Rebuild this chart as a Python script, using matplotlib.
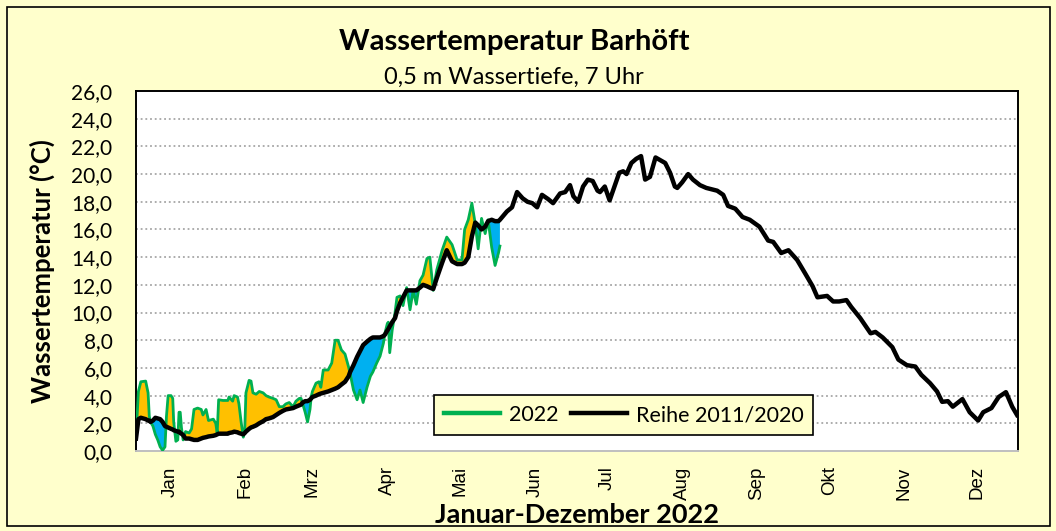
import numpy as np
import matplotlib
matplotlib.use("Agg")
import matplotlib.pyplot as plt
from matplotlib.ticker import FuncFormatter, FixedLocator
from matplotlib.patches import Rectangle

# ---------------- data (day of year, 0 = 1 Jan) ----------------
days_2022 = [0, 1, 2, 4, 5, 5.5, 6, 7, 8, 9, 10, 11, 12, 12.6, 13.3, 14.5, 15.2, 15.6,
             16.5, 17.3, 17.8, 18.3, 18.8, 19.5, 20.5, 22, 23, 24, 25.5, 27, 27.7, 29,
             30, 32, 33, 33.6, 34.2, 36, 38, 38.5, 40, 40.6, 42, 42.6, 43.5, 44.4, 45,
             45.5, 46.8, 47.6, 48.4, 49.7, 51, 52.6, 53.8, 55, 56.7, 58, 59.3, 60.8, 62,
             63.4, 65, 66.2, 67.6, 68.3, 69, 70, 71, 72, 72.5, 73, 74.5, 75.7, 76.5, 77.5,
             79.5, 81, 82.4, 83.6, 85, 86.5, 88, 88.6, 90, 91.5, 92.7, 94, 95.6, 97, 98,
             99.6, 101, 102.4, 103, 104, 104.4, 105, 106, 107.2, 108, 109.3, 110.5, 112,
             113.4, 114.7, 116, 117.5, 118.8, 120.4, 121.6, 123, 124.5, 126.7, 128.6,
             130.8, 132.9, 134.9, 136, 137.5, 139, 140.4, 141.6, 143, 144.5, 145.7, 147.2,
             148.6, 150, 150.6]

temp_2022 = [1.0, 4.3, 5.0, 5.05, 4.2, 2.5, 2.1, 1.8, 1.2, 0.8, 0.3, 0.05, 0.3, 2.5, 4.0,
             4.0, 3.8, 2.1, 0.7, 0.8, 2.8, 2.8, 1.7, 0.8, 1.4, 1.3, 1.6, 3.0, 3.1, 3.0, 2.6,
             3.0, 2.2, 2.3, 2.0, 1.3, 3.7, 3.65, 3.65, 3.9, 3.6, 4.0, 3.9, 3.4, 2.1, 1.0,
             1.5, 4.2, 5.1, 5.05, 4.2, 4.1, 4.3, 4.2, 4.0, 3.9, 3.8, 3.7, 3.2, 3.2, 3.4,
             3.5, 3.2, 3.6, 3.8, 3.8, 3.4, 2.8, 2.1, 3.0, 3.9, 4.3, 4.9, 5.0, 4.6, 5.85,
             5.85, 6.35, 8.0, 8.0, 7.3, 7.0, 6.05, 5.6, 4.4, 3.7, 4.4, 3.5, 4.6, 5.4, 5.7,
             6.35, 6.85, 7.8, 8.5, 9.2, 9.3, 7.1, 8.7, 10.0, 11.1, 11.2, 10.5, 11.8, 10.2,
             11.6, 10.6, 12.3, 12.7, 13.9, 14.0, 11.6, 13.1, 14.5, 15.45, 14.9, 13.8, 13.8,
             16.0, 16.7, 17.9, 16.4, 14.6, 16.8, 15.7, 16.7, 14.7, 13.4, 14.3, 14.8]

# Reihe 2011/2020 read at the same days for Jan-May, then for the rest of the year
reihe_jan_may = [0.9, 2.3, 2.4, 2.3, 2.2, 2.2, 2.1, 2.2, 2.4, 2.35, 2.3, 2.1, 1.8, 1.75, 1.7,
                 1.6, 1.55, 1.5, 1.45, 1.4, 1.4, 1.3, 1.25, 1.15, 0.9, 0.9, 0.85, 0.8, 0.8,
                 0.9, 0.95, 1.0, 1.05, 1.1, 1.15, 1.2, 1.25, 1.25, 1.25, 1.3, 1.35, 1.4, 1.35,
                 1.3, 1.25, 1.2, 1.3, 1.4, 1.6, 1.7, 1.75, 1.85, 2.0, 2.15, 2.3, 2.35, 2.45,
                 2.6, 2.75, 2.9, 3.0, 3.05, 3.1, 3.2, 3.3, 3.35, 3.5, 3.6, 3.6, 3.7, 3.8, 3.9,
                 4.0, 4.1, 4.15, 4.2, 4.3, 4.4, 4.5, 4.6, 4.8, 5.0, 5.4, 5.7, 6.2, 6.8, 7.2,
                 7.65, 7.9, 8.1, 8.2, 8.2, 8.2, 8.3, 8.4, 8.7, 8.8, 9.0, 9.3, 9.6, 10.1, 10.7,
                 11.1, 11.6, 11.6, 11.6, 11.6, 11.8, 12.0, 11.9, 11.8, 11.7, 12.5, 13.6, 14.5,
                 13.7, 13.5, 13.5, 13.6, 14.0, 15.5, 16.5, 16.3, 16.0, 16.2, 16.6, 16.7, 16.6,
                 16.6, 16.7]

days_rest = [153.5, 155.6, 157.7, 160, 162, 164, 166, 168, 170.5, 172.6, 175.5, 177.6,
             179.6, 181, 183, 185, 187, 189, 191, 192, 194, 196, 199, 200, 201.6, 203, 205,
             207, 209, 210.7, 212.7, 215, 217, 219, 221, 223, 224, 226, 228.5, 230.5, 233.4,
             236, 240.5, 243, 245, 248, 251, 254, 258, 261.6, 263.7, 267, 270, 273.6, 277,
             280, 282, 286, 288.5, 291, 294, 296, 299.7, 304, 306, 309, 313, 315.5, 319,
             322.5, 325, 328.6, 331.5, 333.6, 336, 338, 342, 345, 348.5, 350.6, 354, 357,
             360, 362.6, 364.6]
reihe_rest = [17.3, 17.6, 18.7, 18.25, 18.0, 17.9, 17.6, 18.5, 18.2, 17.9, 18.6, 18.7, 19.2,
              18.4, 18.0, 19.1, 19.6, 19.5, 18.8, 18.7, 19.1, 18.1, 19.6, 20.1, 20.2, 20.0,
              20.8, 21.1, 21.3, 19.6, 19.8, 21.2, 21.0, 20.8, 20.1, 19.1, 19.0, 19.4, 20.0,
              19.6, 19.2, 19.0, 18.8, 18.5, 17.7, 17.5, 16.9, 16.7, 16.2, 15.2, 15.1, 14.3,
              14.5, 13.8, 12.8, 11.9, 11.1, 11.2, 10.8, 10.8, 10.9, 10.4, 9.6, 8.5, 8.6, 8.2,
              7.5, 6.6, 6.2, 6.1, 5.5, 4.9, 4.3, 3.55, 3.6, 3.2, 3.75, 2.8, 2.2, 2.8, 3.1,
              3.9, 4.25, 3.2, 2.6]

month_labels = ["Jan", "Feb", "Mrz", "Apr", "Mai", "Jun", "Jul", "Aug", "Sep", "Okt", "Nov", "Dez"]
month_mid_days = [14, 45, 73, 104, 134, 165, 195, 226, 257, 287, 318, 348]
y_ticks = list(range(0, 27, 2))

# ---------------- styling ----------------
BG = "#FFFFCC"
YELLOW = "#FFC000"
BLUE = "#00B0F0"
GREEN = "#00B050"
FONT = ["Lato", "DejaVu Sans"]
plt.rcParams["font.family"] = FONT

W, H = 1056, 531
fig = plt.figure(figsize=(W / 100, H / 100), dpi=100, facecolor=BG)
fig.patches.append(Rectangle((7 / W, 5 / H), 1 - 13 / W, 1 - 12 / H, transform=fig.transFigure,
                             facecolor="none", edgecolor="black", linewidth=1.2))

ax = fig.add_axes([136 / W, 1 - 451 / H, (1018 - 136) / W, (451 - 91) / H])
ax.set_facecolor("white")

d22 = np.array(days_2022)
t22 = np.array(temp_2022)
r22 = np.array(reihe_jan_may)
ax.fill_between(d22, r22, t22, where=t22 >= r22, interpolate=True, color=YELLOW, lw=0, zorder=2)
ax.fill_between(d22, r22, t22, where=t22 < r22, interpolate=True, color=BLUE, lw=0, zorder=2)

ax.plot(d22, t22, color=GREEN, lw=2.0, zorder=3, label="2022", solid_joinstyle="round")
reihe_days = days_2022 + days_rest
reihe_vals = reihe_jan_may + reihe_rest
ax.plot(reihe_days, reihe_vals, color="black", lw=3.2, zorder=4, label="Reihe 2011/2020",
        solid_joinstyle="round")

ax.set_xlim(0, 365)
ax.set_ylim(0, 26)
ax.yaxis.set_major_locator(FixedLocator(y_ticks))
ax.yaxis.set_major_formatter(FuncFormatter(lambda v, p: f"{v:.1f}".replace(".", ",")))
ax.set_xticks(month_mid_days)
ax.set_xticklabels(month_labels, rotation=90, fontfamily="Liberation Sans", fontsize=13.5)
ax.tick_params(axis="x", length=0, pad=11)
ax.tick_params(axis="y", length=0, pad=17, labelsize=15)

for y in y_ticks[1:-1]:
    ax.axhline(y, color="#A6A6A6", lw=1.3, ls=(0, (1, 1.6)), zorder=1)

for s in ["top", "left", "right"]:
    ax.spines[s].set_color("black")
    ax.spines[s].set_linewidth(1.4)
ax.spines["bottom"].set_color("#BFBFBF")
ax.spines["bottom"].set_linewidth(1.4)

ax.set_ylabel("Wassertemperatur (°C)", fontsize=18.5, fontweight="bold")
ax.yaxis.set_label_coords(-0.092, 0.5)
fig.text(577 / W, 1 - 515 / H, "Januar-Dezember 2022", ha="center", va="center",
         fontsize=19.5, fontweight="bold")
fig.text(514 / W, 1 - 42 / H, "Wassertemperatur Barhöft", ha="center", va="center",
         fontsize=21, fontweight="bold")
fig.text(514 / W, 1 - 77 / H, "0,5 m Wassertiefe, 7 Uhr", ha="center", va="center", fontsize=17)

leg = ax.legend(loc="center", bbox_to_anchor=(0.553, 0.10), ncol=2, fontsize=15.5,
                frameon=True, fancybox=False, edgecolor="black", facecolor=BG, framealpha=1,
                handlelength=2.6, columnspacing=0.6, handletextpad=0.4, borderpad=0.45)
leg.get_frame().set_linewidth(1.2)
for h in leg.get_lines():
    h.set_linewidth(3.2)

fig.savefig("out.png", dpi=100, facecolor=BG)
